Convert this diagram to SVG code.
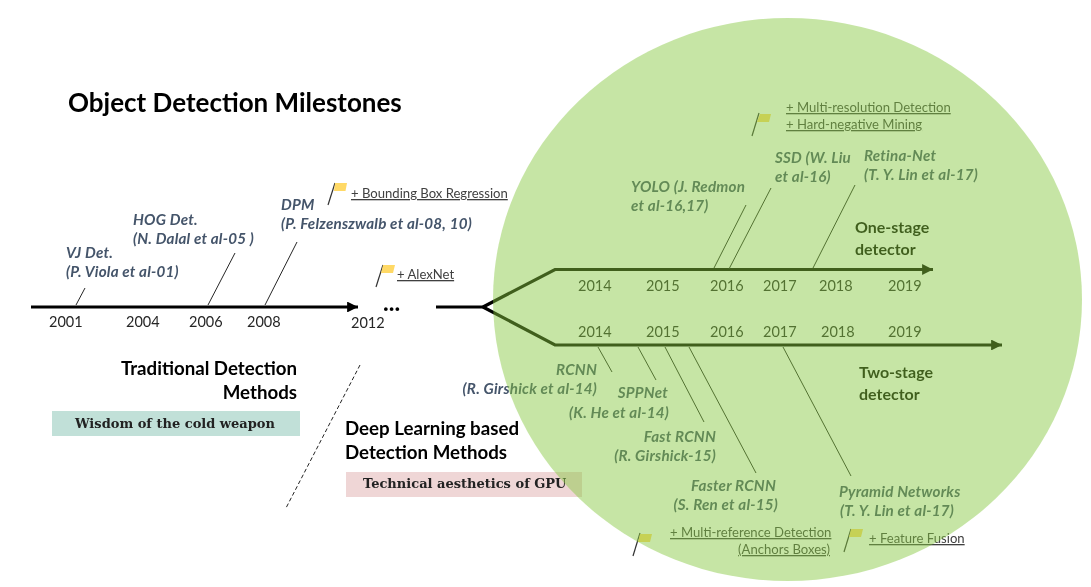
<svg xmlns="http://www.w3.org/2000/svg" width="1091" height="587" viewBox="0 0 1091 587">
<style>
text{font-family:Lato,"Open Sans","Liberation Sans",sans-serif;fill:#262626}
.m{font-weight:700;font-style:italic;font-size:15.2px;fill:#44546a;letter-spacing:.2px}
.y{font-size:14.5px}
.h{font-weight:700;font-size:18.7px;fill:#000}
.s{font-weight:700;font-size:16px;fill:#000}
.f{font-size:13.1px;text-decoration:underline;fill:#404040}
.w{font-family:"DejaVu Serif",serif;font-weight:700;font-size:13px;fill:#222}
.e{text-anchor:end}
.t{stroke:#262626;stroke-width:1;fill:none}
.p{stroke:#333;stroke-width:1.2;fill:none}
.flag{fill:#ffd966}
.a{stroke:#000;stroke-width:3.2;fill:none}
</style>
<defs>
<marker id="ah" viewBox="0 0 5 5" markerWidth="3.800" markerHeight="3.400" refX="5" refY="2.500" orient="auto"><path d="M0 0L5 2.500L0 5z" fill="#000"/></marker>
<filter id="soft" x="0" y="0" width="100%" height="100%"><feGaussianBlur stdDeviation="0.35"/></filter>
</defs>
<rect width="1091" height="587" fill="#fff"/>
<g filter="url(#soft)">
<g id="connectors">
<path class="a" marker-end="url(#ah)" d="M31 307H358"/>
<path class="a" d="M436 307H483"/>
<path class="a" marker-end="url(#ah)" d="M483 307L555 269.500H933"/>
<path class="a" marker-end="url(#ah)" d="M483 307L555 345H1002"/>
<path class="t" d="M76 305L85 288M208 305L235 253M265 305L297 242"/>
<path class="t" d="M714 268L746 205M729 269L771 188M813 268L855 185"/>
<path class="t" d="M598 347L612 372M638 347L656 380M665 347L704 422M689 347L756 473M783 347L851 476"/>
<path d="M360 365L286 508" stroke="#222" stroke-width="1" stroke-dasharray="4 2.500" fill="none"/>
</g>
<g id="title"><text x="68" y="112" font-size="26" font-weight="700" style="fill:#000">Object Detection Milestones</text></g>
<g id="years-traditional">
<text class="y" x="49" y="327">2001</text><text class="y" x="126" y="327">2004</text><text class="y" x="189" y="327">2006</text><text class="y" x="247" y="327">2008</text><text class="y" x="351" y="328">2012</text>
<text x="383" y="311" font-size="24" font-weight="700" style="fill:#000">...</text>
</g>
<g id="vj"><text class="m" x="66" y="258">VJ Det.</text><text class="m" x="66" y="277">(P. Viola et al-01)</text></g>
<g id="hog"><text class="m" x="133" y="225">HOG Det.</text><text class="m" x="133" y="244">(N. Dalal et al-05 )</text></g>
<g id="dpm"><text class="m" x="281" y="210">DPM</text><text class="m" x="281" y="229">(P. Felzenszwalb et al-08, 10)</text></g>
<g id="flag-bbox"><path class="p" d="M328 205L335 183"/><path class="flag" d="M335 183H347L345.500 191H334z"/><text class="f" x="351" y="198">+ Bounding Box Regression</text></g>
<g id="flag-alexnet"><path class="p" d="M376 287L383 265"/><path class="flag" d="M383 265H395L393 273H381z"/><text class="f" x="397" y="279">+ AlexNet</text></g>
<g id="traditional"><text class="h e" x="297" y="375">Traditional Detection</text><text class="h e" x="297" y="399">Methods</text>
<rect x="52" y="411" width="248" height="25" fill="#c1e0d8"/><text class="w" x="75" y="428">Wisdom of the cold weapon</text></g>
<g id="deep"><text class="h" x="345" y="435">Deep Learning based</text><text class="h" x="345" y="459">Detection Methods</text>
<rect x="346" y="472" width="236" height="25" fill="#efd6d6"/><text class="w" x="363" y="488">Technical aesthetics of GPU</text></g>
<g id="years-one">
<text class="y" x="578" y="291">2014</text><text class="y" x="646" y="291">2015</text><text class="y" x="710" y="291">2016</text><text class="y" x="763" y="291">2017</text><text class="y" x="819" y="291">2018</text><text class="y" x="888" y="291">2019</text>
</g>
<g id="years-two">
<text class="y" x="578" y="337">2014</text><text class="y" x="646" y="337">2015</text><text class="y" x="710" y="337">2016</text><text class="y" x="763" y="337">2017</text><text class="y" x="821" y="337">2018</text><text class="y" x="888" y="337">2019</text>
</g>
<g id="yolo"><text class="m" x="631" y="192">YOLO (J. Redmon</text><text class="m" x="631" y="211">et al-16,17)</text></g>
<g id="ssd"><text class="m" x="775" y="163">SSD (W. Liu</text><text class="m" x="775" y="182">et al-16)</text></g>
<g id="retina"><text class="m" x="864" y="161">Retina-Net</text><text class="m" x="864" y="180">(T. Y. Lin et al-17)</text></g>
<g id="one-stage"><text class="s" x="855" y="233">One-stage</text><text class="s" x="855" y="255">detector</text></g>
<g id="flag-multires"><path class="p" d="M752 136L759 113"/><path class="flag" d="M760 114H771L769 122H757z"/><text class="f" x="786" y="112">+ Multi-resolution Detection</text><text class="f" x="786" y="129">+ Hard-negative Mining</text></g>
<g id="rcnn"><text class="m e" x="597" y="375">RCNN</text><text class="m e" x="597" y="394">(R. Girshick et al-14)</text></g>
<g id="sppnet"><text class="m e" x="668" y="398">SPPNet</text><text class="m e" x="669" y="418">(K. He et al-14)</text></g>
<g id="fast-rcnn"><text class="m e" x="716" y="442">Fast RCNN</text><text class="m e" x="716" y="461">(R. Girshick-15)</text></g>
<g id="faster-rcnn"><text class="m e" x="776" y="491">Faster RCNN</text><text class="m e" x="778" y="510">(S. Ren et al-15)</text></g>
<g id="fpn"><text class="m" x="839" y="497">Pyramid Networks</text><text class="m" x="840" y="516">(T. Y. Lin et al-17)</text></g>
<g id="two-stage"><text class="s" x="859" y="378">Two-stage</text><text class="s" x="859" y="400">detector</text></g>
<g id="flag-anchors"><path class="p" d="M633 556L640 533"/><path class="flag" d="M640 534H652L650 542H638z"/><text class="f" x="670" y="537">+ Multi-reference Detection</text><text class="f e" x="830" y="554">(Anchors Boxes)</text></g>
<g id="flag-fusion"><path class="p" d="M844 552L851 529"/><path class="flag" d="M851 529H863L861 537H849z"/><text class="f" x="869" y="543">+ Feature Fusion</text></g>
<ellipse id="overlay" cx="787.500" cy="299.500" rx="294.500" ry="281.500" fill="#86c840" fill-opacity=".47"/>
</g>
</svg>
